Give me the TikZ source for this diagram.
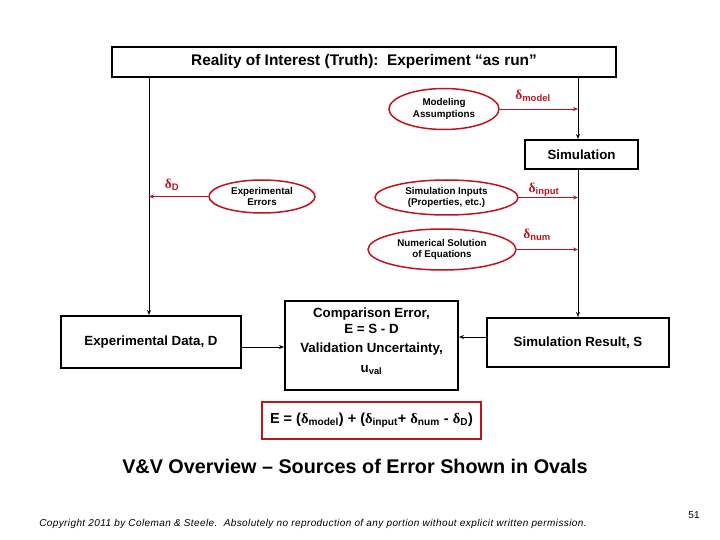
\documentclass[tikz,border=0pt]{standalone}
\usepackage{fontspec}
\setmainfont{Liberation Sans}
\newfontfamily\dfont{Liberation Serif}
\usetikzlibrary{shapes.geometric,arrows.meta}
\definecolor{ored}{RGB}{190,20,30}
\newcommand\dl[1]{{\dfont δ}\textsubscript{\bfseries #1}}
\begin{document}
\begin{tikzpicture}[x=1pt,y=-1pt,
  box/.style={draw=black,line width=2pt,fill=white,inner sep=0pt,font=\bfseries\fontsize{13.3}{15}\selectfont},
  ctext/.style={font=\bfseries\fontsize{13.3}{15}\selectfont,inner sep=0pt},
  oval/.style={draw=ored,line width=1.5pt,ellipse,inner sep=0pt,align=center,font=\bfseries\fontsize{9.8}{11.5}\selectfont},
  blk/.style={line width=0.9pt,-{Stealth[length=5pt,width=4pt]}},
  rd/.style={draw=ored,line width=0.9pt,-{Stealth[length=5pt,width=4pt]}},
  dlab/.style={text=ored,font=\bfseries\fontsize{13.5}{14}\selectfont,inner sep=0pt}]
\useasboundingbox (0,0) rectangle (720,540);
\node[box,line width=2.5pt,minimum width=504pt,minimum height=30pt,font=\bfseries\fontsize{15.4}{17}\selectfont] (top) at (364,62) {Reality of Interest (Truth):\ \ Experiment “as run”};
\node[box,minimum width=113pt,minimum height=29pt] (sim) at (581.5,154.5) {Simulation};
\node[box,minimum width=180pt,minimum height=52pt] (exp) at (151,342) {Experimental Data, D};
\node[box,minimum width=182pt,minimum height=49pt] (simres) at (578,342.5) {Simulation Result, S};
\node[box,minimum width=173pt,minimum height=89pt] (comp) at (371.5,345.5) {};
\node[ctext] (c1) at (371.5,314) {Comparison Error,};
\node[ctext] (c2) at (371.5,329) {E = S - D};
\node[ctext] (c3) at (371.5,349) {Validation Uncertainty,};
\node[ctext] (c4) at (371.5,370) {u\textsubscript{val}};
\node[draw=ored,line width=1.5pt,minimum width=219pt,minimum height=37pt,inner sep=0pt,font=\bfseries\fontsize{14.5}{17}\selectfont] (eq) at (371.5,420.5)
  {E = (\dl{model}) + (\dl{input}+ \dl{num} - \dl{D})};
\node[oval,minimum width=110pt,minimum height=41pt] (model) at (444,109) {Modeling\\Assumptions};
\node[oval,minimum width=106pt,minimum height=33pt] (experr) at (262,196.5) {Experimental\\Errors};
\node[oval,minimum width=143pt,minimum height=35pt] (siminp) at (446.5,197.5) {Simulation Inputs\\(Properties, etc.)};
\node[oval,minimum width=148pt,minimum height=41pt] (numsol) at (442,249.5) {Numerical Solution\\of Equations};
\coordinate (rx) at (578,0);
\coordinate (lx) at (149,0);
\draw[blk] (top.south -| lx) -- (exp.north -| lx);
\draw[blk] (top.south -| rx) -- (sim.north -| rx);
\draw[blk] (sim.south -| rx) -- (simres.north -| rx);
\draw[blk] (exp.east |- 0,347) -- (comp.west |- 0,347);
\draw[blk] (simres.west |- 0,337) -- (comp.east |- 0,337);
\draw[rd] (model.east) -- (model.east -| rx);
\draw[rd] (experr.west) -- (experr.west -| lx);
\draw[rd] (siminp.east) -- (siminp.east -| rx);
\draw[rd] (numsol.east) -- (numsol.east -| rx);
\node[dlab] (lm) at (533,96) {\dl{model}};
\node[dlab] (ld) at (172,185) {\dl{D}};
\node[dlab] (li) at (544,190) {\dl{input}};
\node[dlab] (ln) at (537,235) {\dl{num}};
\node[font=\bfseries\fontsize{19.8}{22}\selectfont,inner sep=0pt] (title) at (355,466) {V\&V Overview – Sources of Error Shown in Ovals};
\node[font=\itshape\fontsize{10}{12}\selectfont\addfontfeature{LetterSpace=4},inner sep=0pt] (copy) at (313,524) {Copyright 2011 by Coleman \& Steele.\ \ Absolutely no reproduction of any portion without explicit written permission.};
\node[font=\fontsize{10}{11}\selectfont,inner sep=0pt] (pg) at (694,515) {51};
\end{tikzpicture}
\end{document}
